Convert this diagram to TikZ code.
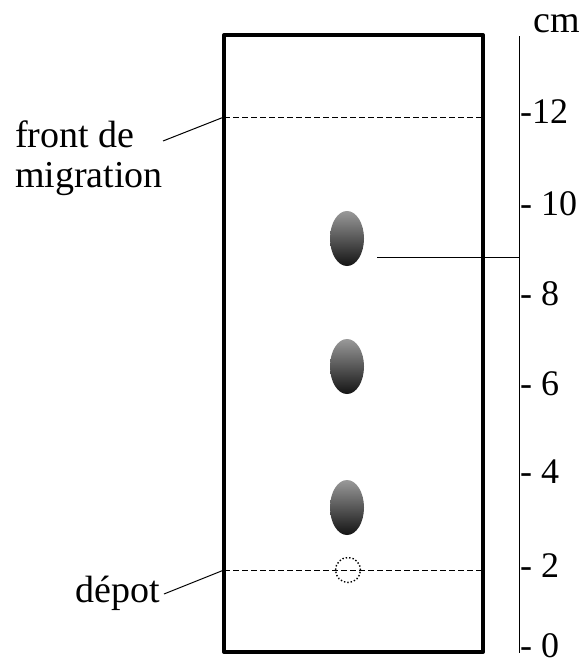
\documentclass[tikz,border=0pt]{standalone}
\usepackage{fontspec}
\setmainfont{Liberation Serif}
\usepackage{tikz}
\usetikzlibrary{shapes, positioning}

\begin{document}
\begin{tikzpicture}[x=1pt,y=-1pt,
	txt/.style={inner sep=0pt,font=\fontsize{38}{44}\selectfont},
	num/.style={inner sep=0pt,font=\fontsize{36}{42}\selectfont},
	spot/.style={ellipse,minimum width=34pt,minimum height=55pt,inner sep=0pt,top color=black!40,bottom color=black!92},
	front/.style={line width=1pt,dash pattern=on 6pt off 3pt}]
		
		\useasboundingbox (0,0) rectangle (582,664);
		
		% plaque
		\draw[line width=4pt,line join=round] (224,35) rectangle (483,652);
		\coordinate (FL) at (224,117);
		\coordinate (FR) at (483,117);
		\coordinate (DL) at (224,570);
		\coordinate (DR) at (483,570);
		\draw[front] (FL) -- (FR);
		\draw[front] (DL) -- (DR);
		
		\node[circle,draw,dotted,line width=1.4pt,minimum size=25pt,inner sep=0pt] (D) at (348,570) {};
		\node[spot] (S1) at (347,238.5) {};
		\node[spot] (S2) at (347,366.5) {};
		\node[spot] (S3) at (347,507.5) {};
		
		% regle
		\coordinate (R0) at (519,36);
		\coordinate (R1) at (519,653);
		\draw[line width=1pt] (R0) -- (R1);
		\node[txt,anchor=base west] (CM) at (533,32) {cm};
		\foreach \t/\y in {-12/111.5, - 10/203.5, - 8/293.5, - 6/384, - 4/472, - 2/565.5, - 0/646}
			\node[num,anchor=west] at (520,\y) {\t};
		
		\coordinate (S1a) at (377,257);
		\coordinate (S1b) at (519,257);
		\draw[line width=1pt] (S1a) -- (S1b);
		
		% legendes
		\node[txt,anchor=base west] (FRONT) at (15,147) {front de};
		\node[txt,anchor=base west] (MIGR) at (15,187) {migration};
		\node[txt,anchor=base west] (DEPOT) at (75,602) {dépot};
		\coordinate (FRONTa) at (163,141);
		\coordinate (DEPOTa) at (164,594);
		\draw[line width=1pt] (FRONTa) -- (FL);
		\draw[line width=1pt] (DEPOTa) -- (DL);
		
	\end{tikzpicture}
\end{document}
